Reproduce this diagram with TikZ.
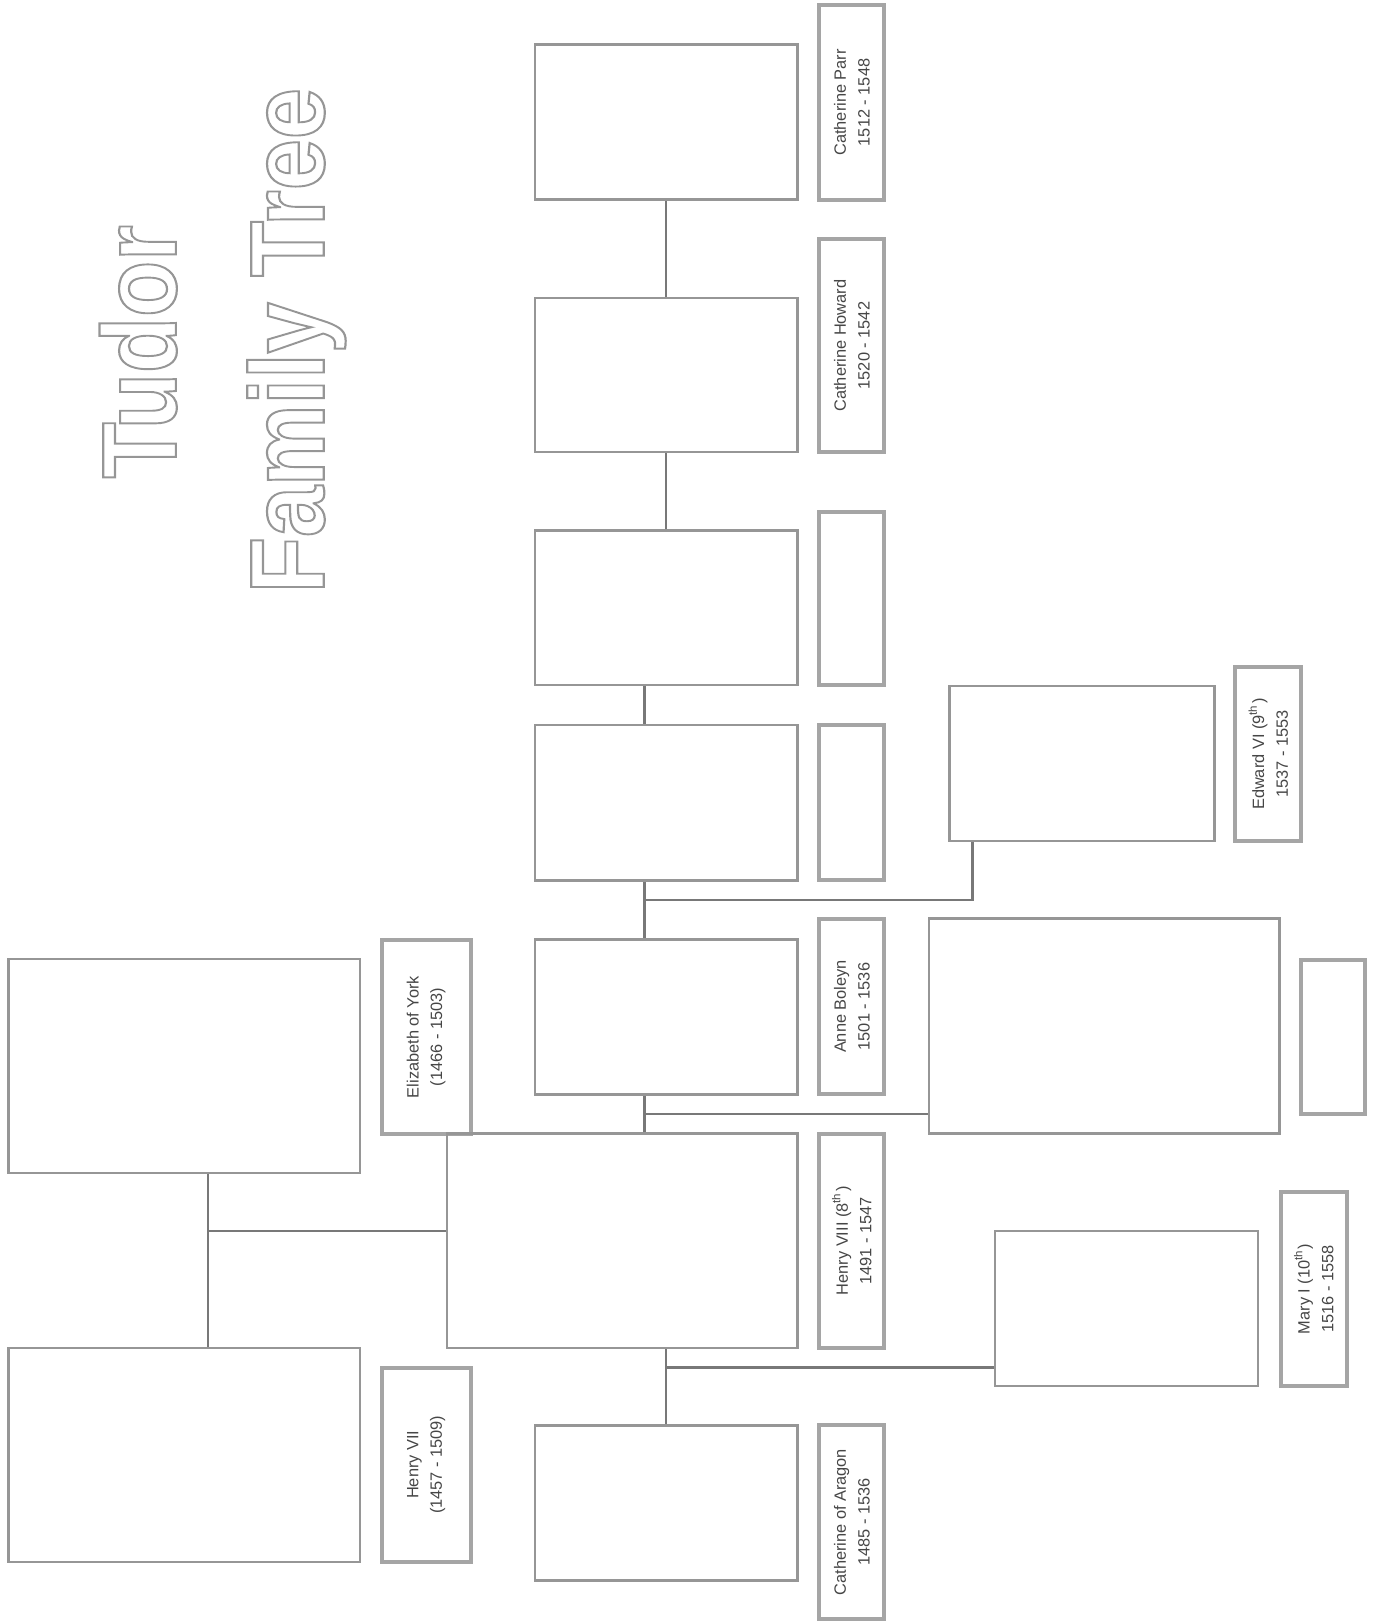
\documentclass[tikz,border=0pt]{standalone}
\usepackage{fontspec}
\setmainfont{Liberation Sans}
\usetikzlibrary{fit}
\definecolor{frame}{RGB}{150,150,150}
\definecolor{tagline}{RGB}{165,165,165}
\definecolor{link}{RGB}{120,120,120}
\definecolor{ink}{RGB}{70,70,70}
\newcommand{\hollow}[1]{\special{pdf:literal direct 1 Tr 0.6 w}#1\special{pdf:literal direct 0 Tr}}

\begin{document}
\begin{tikzpicture}[x=0.01cm,y=-0.01cm,
  portrait/.style={draw=frame,line width=0.7pt,inner sep=0pt},
  tag/.style={draw=tagline,line width=1.1pt,inner sep=0pt},
  tagtext/.style={rotate=90,align=center,text=ink,font=\fontsize{4.5}{6.5}\selectfont},
  headline/.style={rotate=90,xscale=0.87,anchor=base west,text=frame,inner sep=0pt,
    font=\fontsize{29}{30}\selectfont\bfseries},
  link/.style={draw=link,line width=0.7pt}]
\useasboundingbox (0,0) rectangle (1331,1568);

% title
\node[headline] (tudor) at (170,463) {\hollow{Tudor}};
\node[headline] (family) at (313,574) {\hollow{Family Tree}};

% parents
\node[portrait,fit={(8,927) (348,1134)}] (elizabethy) {};
\node[tag,fit={(369,909) (455,1096)}] (elizabethytag) {};
\node[tagtext] at (elizabethytag) {Elizabeth of York\\(1466 - 1503)};
\node[portrait,fit={(8,1303) (348,1510)}] (henry7) {};
\node[tag,fit={(369,1322) (455,1510)}] (henry7tag) {};
\node[tagtext] at (henry7tag) {Henry VII\\(1457 - 1509)};

% henry and his wives
\node[portrait,fit={(432,1096) (771,1303)}] (henry8) {};
\node[tag,fit={(792,1096) (855,1303)}] (henry8tag) {};
\node[tagtext] at (henry8tag) {Henry VIII (8\textsuperscript{th})\\1491 - 1547};
\node[portrait,fit={(517,1378) (771,1528)}] (aragon) {};
\node[tag,fit={(792,1378) (855,1565)}] (aragontag) {};
\node[tagtext] at (aragontag) {Catherine of Aragon\\1485 - 1536};
\node[portrait,fit={(517,908) (771,1058)}] (boleyn) {};
\node[tag,fit={(792,888) (855,1058)}] (boleyntag) {};
\node[tagtext] at (boleyntag) {Anne Boleyn\\1501 - 1536};
\node[portrait,fit={(517,701) (771,851)}] (seymour) {};
\node[tag,fit={(792,701) (855,851)}] (seymourtag) {};
\node[portrait,fit={(517,513) (771,662)}] (cleves) {};
\node[tag,fit={(792,495) (855,662)}] (clevestag) {};
\node[portrait,fit={(517,288) (771,437)}] (howard) {};
\node[tag,fit={(792,231) (855,437)}] (howardtag) {};
\node[tagtext] at (howardtag) {Catherine Howard\\1520 - 1542};
\node[portrait,fit={(517,43) (771,193)}] (parr) {};
\node[tag,fit={(792,5) (855,193)}] (parrtag) {};
\node[tagtext] at (parrtag) {Catherine Parr\\1512 - 1548};

% children
\node[portrait,fit={(918,663) (1174,813)}] (edward) {};
\node[tag,fit={(1194,645) (1258,813)}] (edwardtag) {};
\node[tagtext] at (edwardtag) {Edward VI (9\textsuperscript{th})\\1537 - 1553};
\node[portrait,fit={(898,888) (1237,1096)}] (elizabeth) {};
\node[tag,fit={(1258,928) (1320,1077)}] (elizabethtag) {};
\node[portrait,fit={(962,1190) (1216,1340)}] (mary) {};
\node[tag,fit={(1238,1152) (1302,1340)}] (marytag) {};
\node[tagtext] at (marytag) {Mary I (10\textsuperscript{th})\\1516 - 1558};

% connectors
\coordinate (wed) at (201,1190);
\coordinate (spine) at (623,0);
\coordinate (edjoin) at (940,870);
\coordinate (elbranch) at (623,1077);
\coordinate (marybranch) at (644,1322);
\draw[link] (wed |- elizabethy.south) -- (wed |- henry7.north);
\draw[link] (wed) -- (wed -| henry8.west);
\draw[link] (aragon.north |- henry8.south) -- (aragon.north);
\draw[link] (marybranch) -- (marybranch -| mary.west);
\draw[link] (henry8.north -| spine) -- (boleyn.south -| spine);
\draw[link] (elbranch) -- (elbranch -| elizabeth.west);
\draw[link] (boleyn.north -| spine) -- (seymour.south -| spine);
\draw[link] (edjoin -| spine) -- (edjoin) -- (edjoin |- edward.south);
\draw[link] (seymour.north -| spine) -- (cleves.south -| spine);
\draw[link] (cleves.north) -- (howard.south);
\draw[link] (howard.north) -- (parr.south);
\end{tikzpicture}
\end{document}
